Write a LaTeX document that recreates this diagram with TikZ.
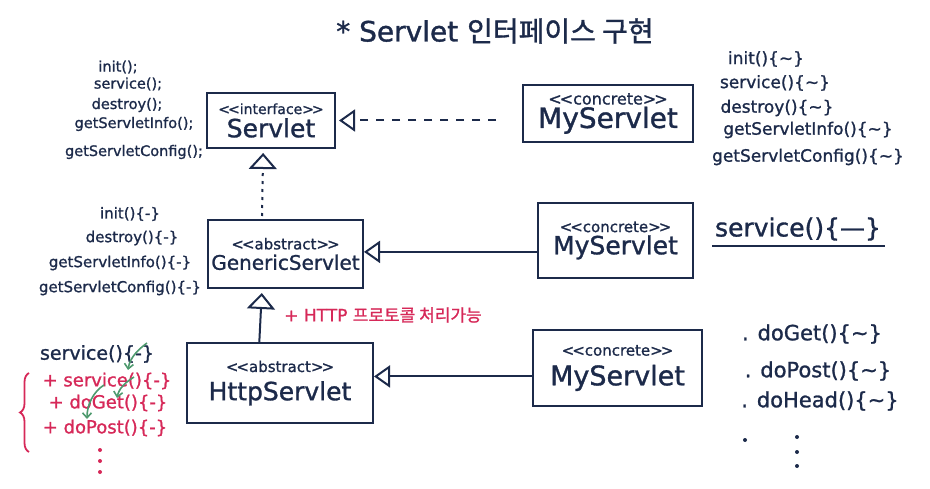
\documentclass[tikz,border=0pt]{standalone}
\usepackage{fontspec}
\setmainfont{DejaVu Sans}[FakeBold=1.2]
\newfontfamily\kr{Noto Sans CJK KR}[FakeBold=1.2]
\usetikzlibrary{arrows.meta,calc,decorations.pathreplacing}
\definecolor{ink}{HTML}{1C2A4A}
\definecolor{pen}{HTML}{D62858}
\definecolor{leaf}{HTML}{4E9A6E}
\newcommand\stl{<\kern-2pt<}
\newcommand\str{>\kern-2pt>}
\newcommand\fsz[1]{\fontsize{#1}{#1}\selectfont}
\begin{document}
\begin{tikzpicture}[x=1pt,y=-1pt,line width=2pt,color=ink,
  cls/.style={draw=ink,line width=2pt,rectangle,inner sep=0pt,align=center,text=ink},
  meth/.style={inner sep=0pt,text=ink},
  redm/.style={inner sep=0pt,text=pen},
  hhead/.style={-{Triangle[open,length=16pt,width=22pt,line width=2pt]}},
  vhead/.style={-{Triangle[open,length=16pt,width=28pt,line width=2pt]}},
  leafarrow/.style={leaf,line width=1.6pt,-{Straight Barb[length=5pt,width=9pt,line width=1.6pt]}},
  dotmark/.style={circle,fill,inner sep=0pt,minimum size=4pt}]
\useasboundingbox (0,0) rectangle (930,489);

% title
\node[meth] (title) at (495,31) {\fsz{28}* Servlet {\kr 인터페이스 구현}};

% class boxes
\node[cls,minimum width=128pt,minimum height=55pt] (servlet) at (271,120.5)
  {{\fsz{14}\stl interface\str}\\[3pt]{\fsz{25}Servlet}};
\node[cls,minimum width=170pt,minimum height=57pt] (my1) at (608,113.5)
  {{\fsz{16}\stl concrete\str}\\[1pt]{\fsz{28}MyServlet}};
\node[cls,minimum width=155pt,minimum height=68pt] (generic) at (285.5,254)
  {{\fsz{15}\stl abstract\str}\\[4pt]{\fsz{20}GenericServlet}};
\node[cls,minimum width=155pt,minimum height=75pt] (my2) at (615.5,240.5)
  {{\fsz{15}\stl concrete\str}\\[2pt]{\fsz{25}MyServlet}};
\node[cls,minimum width=186pt,minimum height=80pt] (http) at (280,383)
  {{\fsz{15}\stl abstract\str}\\[8pt]{\fsz{25}HttpServlet}};
\node[cls,minimum width=169pt,minimum height=76pt] (my3) at (617.5,368)
  {{\fsz{15}\stl concrete\str}\\[8pt]{\fsz{27}MyServlet}};

% connectors
\draw[hhead,dash pattern=on 8pt off 8pt,shorten <=26pt,shorten >=3pt]
  (my1.west |- servlet.east) -- (servlet.east);
\draw[vhead,dash pattern=on 3pt off 5pt,shorten <=3pt,shorten >=4pt]
  ($(generic.north west)!0.35!(generic.north east)$) -- ($(servlet.south west)!0.44!(servlet.south east)$);
\coordinate (g-in) at ($(generic.north east)!0.47!(generic.south east)$);
\draw[hhead] (my2.west |- g-in) -- (g-in);
\draw[vhead,shorten >=4pt]
  ($(http.north west)!0.39!(http.north east)$) -- ($(generic.south west)!0.35!(generic.south east)$);
\coordinate (h-in) at ($(http.north east)!0.42!(http.south east)$);
\draw[hhead] (my3.west |- h-in) -- (h-in);

% Servlet methods (left)
\begin{scope}[every node/.style={meth,font=\fsz{14.5}}]
\node (s1) at (118,67) {init();};
\node (s2) at (128,84) {service();};
\node (s3) at (127,105) {destroy();};
\node (s4) at (134,124) {getServletInfo();};
\node (s5) at (134,152) {getServletConfig();};
\end{scope}

% MyServlet 1 methods (right)
\begin{scope}[every node/.style={meth,font=\fsz{17}}]
\node (m1) at (766,59) {init()\{\textasciitilde\}};
\node (m2) at (775,83) {service()\{\textasciitilde\}};
\node (m3) at (777,108) {destroy()\{\textasciitilde\}};
\node (m4) at (808,130) {getServletInfo()\{\textasciitilde\}};
\node (m5) at (808,157) {getServletConfig()\{\textasciitilde\}};
\end{scope}

% GenericServlet methods (left)
\begin{scope}[every node/.style={meth,font=\fsz{15}}]
\node (g1) at (130,214) {init()\{-\}};
\node (g2) at (132,238) {destroy()\{-\}};
\node (g3) at (120,263) {getServletInfo()\{-\}};
\node (g4) at (120,288) {getServletConfig()\{-\}};
\end{scope}

% MyServlet 2 method
\node[meth,font=\fsz{25}] (svc) at (798,229) {service()\{—\}};
\draw (svc.south west) ++(-2,4) coordinate (u1) -- ($(svc.south east)+(3,4)$) coordinate (u2);

% HTTP note
\node[redm] (note) at (383,315) {\fsz{17}+ HTTP {\kr 프로토콜 처리가능}};

% HttpServlet methods (left)
\node[meth,font=\fsz{19}] (h0) at (97,354) {service()\{-\}};
\begin{scope}[every node/.style={redm,font=\fsz{18}}]
\node (h1) at (107,381) {+ service()\{-\}};
\node (h2) at (108,403) {+ doGet()\{-\}};
\node (h3) at (105,428) {+ doPost()\{-\}};
\end{scope}
\draw[pen,line width=1.8pt,decorate,decoration={brace,amplitude=9pt}] (29,452) -- (29,373);
\node[dotmark,pen] (rd1) at (100,450) {};
\node[dotmark,pen] (rd2) at (100,461) {};
\node[dotmark,pen] (rd3) at (100,472) {};

% green override arrows
\coordinate (a1s) at (147,343);
\coordinate (a1e) at (128,370);
\coordinate (a2s) at (134,377);
\coordinate (a2e) at (117,398);
\coordinate (a3s) at (104,385);
\coordinate (a3e) at (87,419);
\draw[leafarrow] (a1s) .. controls (139,349) and (130,357) .. (a1e);
\draw[leafarrow] (a2s) .. controls (126,382) and (119,388) .. (a2e);
\draw[leafarrow] (a3s) .. controls (93,392) and (87,405) .. (a3e);

% MyServlet 3 methods (right)
\begin{scope}[every node/.style={meth,font=\fsz{21}}]
\node (d1) at (812,334) {. doGet()\{\textasciitilde\}};
\node (d2) at (818,371) {. doPost()\{\textasciitilde\}};
\node (d3) at (820,401) {. doHead()\{\textasciitilde\}};
\end{scope}
\node[dotmark] (nd0) at (745,440) {};
\node[dotmark] (nd1) at (797,437) {};
\node[dotmark] (nd2) at (797,452) {};
\node[dotmark] (nd3) at (797,466) {};
\end{tikzpicture}
\end{document}
